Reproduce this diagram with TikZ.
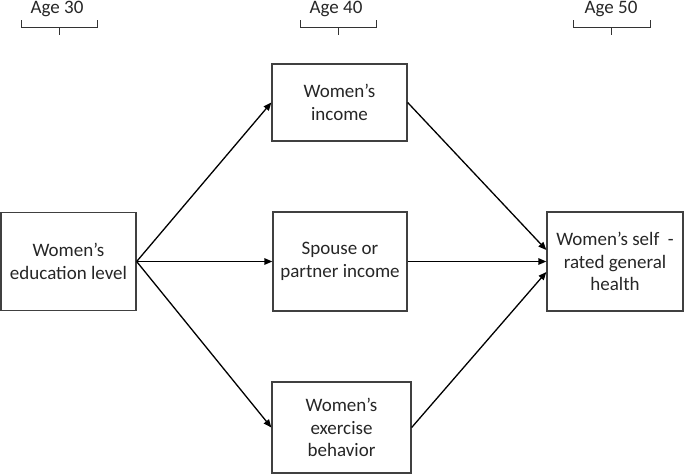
\documentclass[tikz,border=0pt]{standalone}
\usepackage{fontspec}
\setmainfont{Carlito}
\usetikzlibrary{arrows.meta}
\begin{document}
\begin{tikzpicture}[x=1pt,y=-1pt,
  box/.style={draw=black!75,line width=1.3pt,rectangle,align=center,inner sep=2pt,
    font=\fontsize{19}{22.5}\selectfont,text=black!85},
  arr/.style={line width=1.3pt,-{Triangle[length=8pt,width=6.5pt]}},
  agelbl/.style={font=\fontsize{19}{22}\selectfont,text=black!85,inner sep=0pt},
  brace/.style={draw=black!80,line width=1pt}]
\useasboundingbox (0,0) rectangle (685,474);
% age labels and brackets
\node[agelbl] (a30) at (57,9) {Age 30};
\node[agelbl] (a40) at (336,9) {Age 40};
\node[agelbl] (a50) at (611,9) {Age 50};
\draw[brace] (21,20) -- (21,27) -- (97,27) -- (97,20);
\draw[brace] (59,27) -- (59,35);
\draw[brace] (300,20) -- (300,27) -- (376,27) -- (376,20);
\draw[brace] (338,27) -- (338,35);
\draw[brace] (573,20) -- (573,27) -- (650,27) -- (650,20);
\draw[brace] (611,27) -- (611,35);
% boxes
\node[box,minimum width=135pt,minimum height=98pt] (edu) at (68.5,261.5) {Women’s\\education level};
\node[box,minimum width=135pt,minimum height=77pt] (inc) at (339.5,102.5) {Women’s\\income};
\node[box,minimum width=134pt,minimum height=99pt] (sp) at (340,261.5) {Spouse or\\partner income};
\node[box,minimum width=139pt,minimum height=91pt] (ex) at (341.5,427.5) {Women’s\\exercise\\behavior};
\node[box,minimum width=136pt,minimum height=99pt] (hl) at (615,261.5) {Women’s self\ \ -\\rated general\\health};
% arrows
\draw[arr] (edu.east) -- (inc.west);
\draw[arr] (edu.east) -- (sp.west);
\draw[arr] (edu.east) -- (ex.west);
\draw[arr] (inc.east) -- ([yshift=11.5pt]hl.west);
\draw[arr] (sp.east) -- (hl.west);
\draw[arr] (ex.east) -- ([yshift=-10.5pt]hl.west);
\end{tikzpicture}
\end{document}
